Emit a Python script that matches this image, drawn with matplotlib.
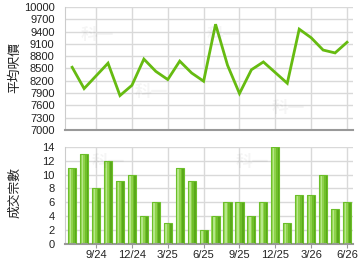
import matplotlib
matplotlib.use("Agg")
import matplotlib.pyplot as plt
import numpy as np

months = ["7/24","8/24","9/24","10/24","11/24","12/24","1/25","2/25","3/25","4/25","5/25","6/25",
          "7/25","8/25","9/25","10/25","11/25","12/25","1/26","2/26","3/26","4/26","5/26","6/26"]
avg_price = [8530, 8010, 8320, 8630, 7840, 8090, 8730, 8430, 8230, 8680, 8390, 8190,
             9580, 8580, 7890, 8470, 8660, 8400, 8140, 9460, 9250, 8950, 8880, 9140]
volume = [11, 13, 8, 12, 9, 10, 4, 6, 3, 11, 9, 2, 4, 6, 6, 4, 6, 14, 3, 7, 7, 10, 5, 6]
tick_labels = ["9/24", "12/24", "3/25", "6/25", "9/25", "12/25", "3/26", "6/26"]
price_ticks = [7000, 7300, 7600, 7900, 8200, 8500, 8800, 9100, 9400, 9700, 10000]
vol_ticks = [0, 2, 4, 6, 8, 10, 12, 14]

tick_pos = [months.index(t) for t in tick_labels]
x = np.arange(len(months))

cjk = ['Noto Sans CJK TC', 'DejaVu Sans']
numfont = 'Liberation Sans'

fig = plt.figure(figsize=(3.6, 2.7), dpi=100)
ax1 = fig.add_axes([65/360, (270-130)/270, 288/360, 123/270])
ax2 = fig.add_axes([65/360, (270-243.5)/270, 288/360, 96.5/270])

grid_c = '#d9d9d9'
for ax in (ax1, ax2):
    ax.set_xlim(-0.6, 23.5)
    ax.set_xticks(tick_pos)
    ax.grid(True, color=grid_c, linewidth=1.0)
    ax.set_axisbelow(True)
    for s in ('top', 'right'):
        ax.spines[s].set_visible(False)
    ax.spines['left'].set_color('#cccccc')
    ax.spines['bottom'].set_color('#999999')
    ax.spines['bottom'].set_linewidth(1.5)
    ax.tick_params(axis='y', length=0, labelsize=8, pad=7.5, colors='#222222')
    ax.tick_params(axis='x', length=3, color='#999999', labelsize=8, pad=2, colors='#222222')

# top line chart
ax1.set_ylim(7000, 10000)
ax1.set_yticks(price_ticks)
ax1.set_yticklabels([str(v) for v in price_ticks], fontfamily=numfont, fontsize=8)
ax1.set_xticklabels([])
ax1.tick_params(axis='x', length=0)
ax1.plot(x, avg_price, color='#66bb11', linewidth=2.0, solid_joinstyle='miter')

# bottom bar chart with gradient strips
ax2.set_ylim(0, 14)
ax2.set_yticks(vol_ticks)
ax2.set_yticklabels([str(v) for v in vol_ticks], fontfamily=numfont, fontsize=8)
ax2.set_xticklabels(tick_labels, fontfamily=numfont, fontsize=8)
bw = 0.68
strip_cols = ['#9ad85a', '#b6e88a', '#8fd24c', '#6fbf2a', '#5aa81a']
ns = len(strip_cols)
sw = bw / ns
for i, c in enumerate(strip_cols):
    off = -bw/2 + sw*(i + 0.5)
    ax2.bar(x + off, volume, width=sw*1.02, color=c, linewidth=0, zorder=2)
ax2.bar(x, volume, width=bw, facecolor='none', edgecolor='#6cbf2a', linewidth=0.8, zorder=3)

# y-axis titles
fig.text(15/360, (270-67.5)/270, '平均呎價', fontfamily=cjk, fontsize=9.2, rotation=90,
         ha='center', va='center', color='#222222')
fig.text(14.5/360, (270-193)/270, '成交宗數', fontfamily=cjk, fontsize=9.2, rotation=90,
         ha='center', va='center', color='#222222')

# faint watermarks
for (fx, fy) in [(0.27, 0.87), (0.62, 0.87), (0.42, 0.66), (0.8, 0.6), (0.3, 0.4), (0.7, 0.4)]:
    fig.text(fx, fy, '科一', fontfamily=cjk, fontsize=12, color='#000000', alpha=0.04,
             fontweight='bold', ha='center', va='center')

fig.savefig('out.png', dpi=100)
